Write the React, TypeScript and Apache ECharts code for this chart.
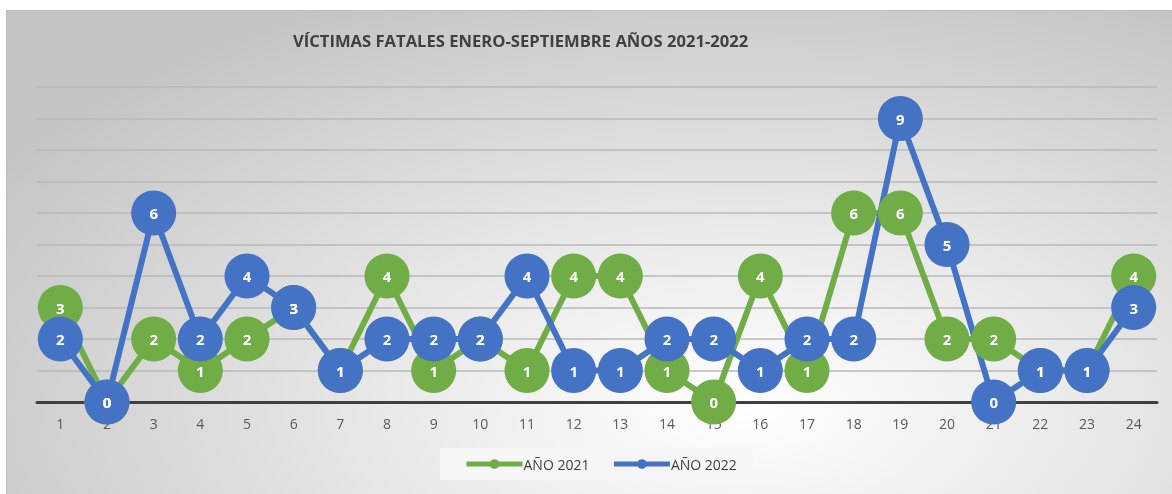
import React, { useEffect, useRef } from "react";
import * as echarts from "echarts";

const categories = ["1","2","3","4","5","6","7","8","9","10","11","12","13","14","15","16","17","18","19","20","21","22","23","24"];
const year2021 = [3,0,2,1,2,3,1,4,1,2,1,4,4,1,0,4,1,6,6,2,2,1,1,4];
const year2022 = [2,0,6,2,4,3,1,2,2,2,4,1,1,2,2,1,2,2,9,5,0,1,1,3];
const seriesNames = ["AÑO 2021", "AÑO 2022"];
const titleText = "VÍCTIMAS FATALES ENERO-SEPTIEMBRE AÑOS 2021-2022";

export default function App() {
  const ref = useRef<HTMLDivElement>(null);
  useEffect(() => {
    if (!ref.current) return;
    const chart = echarts.init(ref.current, undefined, { renderer: "svg" });
    const font = "'Open Sans', 'Noto Sans', sans-serif";
    const mk = (name: string, data: number[], color: string) => ({
      name,
      type: "line",
      data,
      symbol: "circle",
      symbolSize: 45,
      lineStyle: { color, width: 6 },
      itemStyle: { color },
      label: {
        show: true,
        position: "inside",
        color: "#ffffff",
        fontWeight: "bold",
        fontSize: 15,
        fontFamily: font,
      },
    });
    chart.setOption({
      animation: false,
      backgroundColor: "transparent",
      textStyle: { fontFamily: font },
      title: {
        text: titleText,
        left: 281,
        top: 16,
        textStyle: { fontSize: 16.6, fontWeight: "bold", color: "#404040", fontFamily: font },
      },
      legend: {
        data: seriesNames,
        left: 433,
        top: 437,
        padding: [9, 16, 9, 24],
        backgroundColor: "#f6f6f6",
        itemWidth: 56,
        itemHeight: 12,
        itemGap: 22,
        lineStyle: { width: 5 },
        textStyle: { fontSize: 14, color: "#404040", fontFamily: font, padding: [0, 0, 0, -4] },
      },
      grid: { left: 30, right: 16, top: 76, bottom: 93, containLabel: false },
      xAxis: {
        type: "category",
        data: categories,
        boundaryGap: true,
        axisLine: { lineStyle: { color: "#404040", width: 3 } },
        axisTick: { show: false },
        axisLabel: { color: "#595959", fontSize: 14, margin: 14, fontFamily: font },
      },
      yAxis: {
        type: "value",
        min: 0,
        max: 10,
        interval: 1,
        axisLabel: { show: false },
        axisLine: { show: false },
        axisTick: { show: false },
        splitLine: { lineStyle: { color: "#b8b8b8", width: 1.5 } },
      },
      series: [mk(seriesNames[0], year2021, "#70AD47"), mk(seriesNames[1], year2022, "#4472C4")],
    });
    return () => chart.dispose();
  }, []);
  return (
    <div
      style={{
        position: "fixed",
        left: 6,
        top: 10,
        width: 1166,
        height: 484,
        borderTop: "1px solid #bdbdbd",
        borderLeft: "1px solid #bdbdbd",
        boxSizing: "border-box",
        background: "radial-gradient(ellipse 75% 95% at 63% 82%, #ffffff 0%, #e6e6e6 45%, #c4c4c4 100%)",
      }}
    >
      <div ref={ref} style={{ width: 1166, height: 484 }} />
    </div>
  );
}
